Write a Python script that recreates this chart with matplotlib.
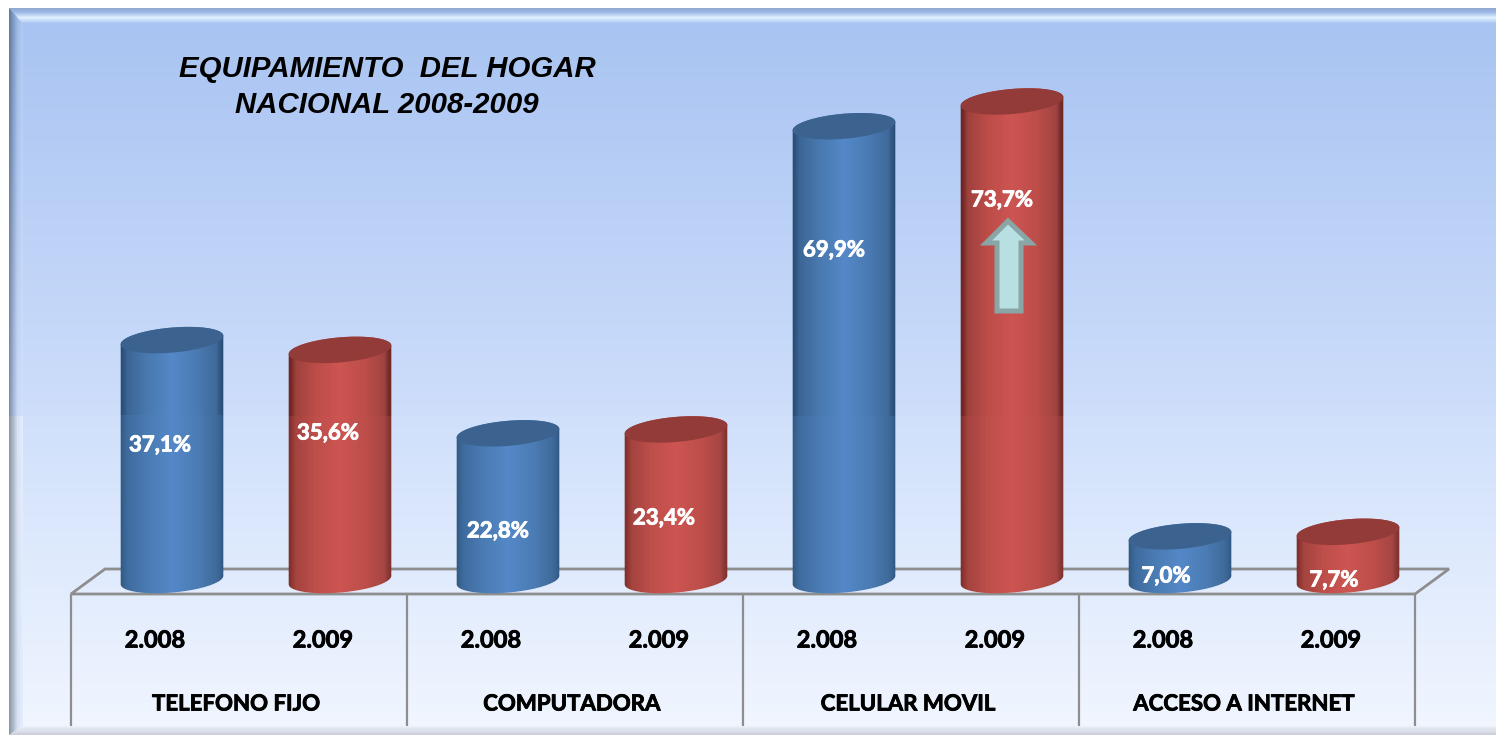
import numpy as np
import matplotlib
matplotlib.use("Agg")
import matplotlib.pyplot as plt
import matplotlib.patheffects as pe
from matplotlib.colors import to_rgb
from matplotlib.patches import Polygon

# Chart data
categories = ["TELEFONO FIJO", "COMPUTADORA", "CELULAR MOVIL", "ACCESO A INTERNET"]
years = ["2.008", "2.009"]
values_2008 = [37.1, 22.8, 69.9, 7.0]
values_2009 = [35.6, 23.4, 73.7, 7.7]
title_lines = ["EQUIPAMIENTO  DEL HOGAR", "NACIONAL 2008-2009"]

# Picture scale: one slot is 168 px, one percent point is 6.52 px
W, H = 1496, 735
SLOT_PX = 168.0
PCT_PX = 6.52
ZERO_PY = 582.0
BASE_PY = 580.0
SEAM_PY = 416
FIRST_PX = 172.0

# Colour ramps across a cylinder (the part above the seam has darker edges)
RAMP_POS = [0, 0.03, 0.07, 0.25, 0.5, 0.75, 0.93, 0.97, 1]
BLUE_UPPER = ["#284a70", "#2e5480", "#3c6696", "#4878ae", "#5488c8", "#4a7ab2", "#3f6a9a", "#2f5580", "#284a70"]
BLUE_LOWER = ["#2f5683", "#38638f", "#3f6c9f", "#4a7bb3", "#5488c8", "#4b7cb4", "#3f6b9c", "#38628f", "#2f5480"]
RED_UPPER = ["#6b2320", "#782a27", "#9e413d", "#bb4c48", "#cd5552", "#bc4d49", "#a04441", "#762d2a", "#6b2522"]
RED_LOWER = ["#7c2c29", "#8e3431", "#a4433f", "#bd4e4a", "#cd5552", "#bd4e4a", "#a54643", "#8a3835", "#7c302d"]
BLUE_TOP = "#3c6390"
RED_TOP = "#933b38"
LINE = "#8e8e8e"


def dx(px):
    return (px - FIRST_PX) / SLOT_PX


def dy(py):
    return (ZERO_PY - py) / PCT_PX


def ramp(where, pos, stops):
    rgb = np.array([to_rgb(c) for c in stops])
    return np.stack([np.interp(where, pos, rgb[:, i]) for i in range(3)], axis=-1)


def background(ax):
    rows = np.arange(H)
    img = ramp(rows, [8, 24, 415, 417, 730], ["#a9c4f2", "#a9c4f2", "#cedefb", "#d0e0fb", "#f1f6ff"])[:, None, :]
    ax.imshow(img, extent=(dx(0), dx(W), dy(H), dy(0)), aspect="auto", zorder=0, interpolation="nearest")

    # bevelled frame: top strip, left strip, bottom strip
    top = ramp(np.arange(8, 24), [8, 12, 17, 20, 23], ["#8fa8d0", "#a0bbe8", "#dff0ff", "#c8def8", "#a9c4f2"])[:, None, :]
    im = ax.imshow(top, extent=(dx(9), dx(W), dy(24), dy(8)), aspect="auto", zorder=1, interpolation="nearest")
    patch = Polygon([(dx(9), dy(8)), (dx(W), dy(8)), (dx(W), dy(24)), (dx(23), dy(24))], fc="none", ec="none")
    ax.add_patch(patch)
    im.set_clip_path(patch)

    # left strip gets lighter going down, with a small step at the seam
    cols = np.arange(9, 24)
    strip_top = ramp(cols, [9, 13, 17, 23], ["#5f7ba3", "#7f9ac4", "#9cb8e6", "#b4cdf5"])
    strip_seam = ramp(cols, [9, 13, 17, 23], ["#808fb0", "#a8b8d8", "#c8daf8", "#d4e3fb"])
    lower = ramp(cols, [9, 13, 17, 23], ["#8d99a8", "#b0bcca", "#d6e2f5", "#e6effd"])
    left = []
    for r in range(8, H):
        k = min(r / SEAM_PY, 1.0)
        left.append((1 - k) * strip_top + k * strip_seam if r < SEAM_PY else lower)
    im = ax.imshow(np.array(left), extent=(dx(9), dx(24), dy(H), dy(8)), aspect="auto", zorder=1,
                   interpolation="nearest")
    patch = Polygon([(dx(9), dy(8)), (dx(23), dy(24)), (dx(23), dy(726)), (dx(9), dy(H))], fc="none", ec="none")
    ax.add_patch(patch)
    im.set_clip_path(patch)

    bottom = ramp(np.arange(726, H), [726, 730, 735], ["#eef3fd", "#dfe3ee", "#c6cad6"])[:, None, :]
    im = ax.imshow(bottom, extent=(dx(9), dx(W), dy(H), dy(726)), aspect="auto", zorder=1, interpolation="nearest")
    patch = Polygon([(dx(9), dy(H)), (dx(23), dy(726)), (dx(W), dy(726)), (dx(W), dy(H))], fc="none", ec="none")
    ax.add_patch(patch)
    im.set_clip_path(patch)

    # white margin round the frame
    ax.add_patch(Polygon([(dx(0), dy(0)), (dx(W), dy(0)), (dx(W), dy(8)), (dx(0), dy(8))],
                         fc="white", ec="none", zorder=2))
    ax.add_patch(Polygon([(dx(0), dy(0)), (dx(9), dy(0)), (dx(9), dy(H)), (dx(0), dy(H))],
                         fc="white", ec="none", zorder=2))


def tilted_ellipse(cx, cy, t):
    # cx, cy in pixels, returns pixel outline points for the angles t
    a, b, rot = 51.5, 12.5, np.radians(-5)
    px = cx + a * np.cos(t) * np.cos(rot) - b * np.sin(t) * np.sin(rot)
    py = cy + a * np.cos(t) * np.sin(rot) + b * np.sin(t) * np.cos(rot)
    return px, py


def cylinder(ax, x, value, upper, lower, top_color):
    top_y = ZERO_PY - value * PCT_PX
    cx = FIRST_PX + x * SLOT_PX
    t = np.linspace(0, 2 * np.pi, 200)

    # outline: lower half of the base, then upper half of the top
    bx, by = tilted_ellipse(cx, BASE_PY, np.linspace(np.pi, 0, 80))
    ux, uy = tilted_ellipse(cx, top_y, np.linspace(0, -np.pi, 80))
    body = Polygon(np.column_stack([dx(np.r_[bx, ux]), dy(np.r_[by, uy])]), fc="none", ec="none", zorder=4)
    ax.add_patch(body)

    where = np.linspace(0, 1, 104)
    y0, y1 = int(top_y - 16), int(BASE_PY + 16)
    up, low = ramp(where, RAMP_POS, upper), ramp(where, RAMP_POS, lower)
    img = np.stack([up if r < SEAM_PY else low for r in range(y0, y1)], axis=0)
    im = ax.imshow(img, extent=(dx(cx - 52), dx(cx + 52), dy(y1), dy(y0)), aspect="auto", zorder=4,
                   interpolation="nearest")
    im.set_clip_path(body)

    tx, ty = tilted_ellipse(cx, top_y, t)
    ax.add_patch(Polygon(np.column_stack([dx(tx), dy(ty)]), fc=top_color, ec="none", zorder=5))


def floor(ax):
    ax.add_patch(Polygon([(dx(71), dy(594)), (dx(105), dy(569)), (dx(1449), dy(569)), (dx(1415), dy(594))],
                         fc="none", ec=LINE, lw=2, zorder=3))
    for i in range(len(categories) + 1):
        px = 71 + i * 2 * SLOT_PX
        ax.plot([dx(px), dx(px)], [dy(594), dy(726)], color=LINE, lw=1.6, zorder=3, solid_capstyle="butt")


def arrow(ax):
    pts = [(1008, 221), (1031, 243), (1021, 243), (1021, 311), (997, 311), (997, 243), (986, 243)]
    ax.add_patch(Polygon([(dx(a), dy(b)) for a, b in pts], fc="#b8e0e2", ec="#8aa5a5", lw=3.6,
                         joinstyle="miter", zorder=6))


def bold_text(ax, px, py, text, color, size):
    t = ax.text(dx(px), dy(py), text, color=color, ha="center", va="center", family="Lato", weight="bold",
                fontsize=size, zorder=7)
    t.set_path_effects([pe.withStroke(linewidth=0.6, foreground=color)])


fig = plt.figure(figsize=(W / 100, H / 100), dpi=100)
ax = fig.add_axes([0, 0, 1, 1])
background(ax)
floor(ax)

# Bars, two per category
label_px = [(160, 445), (328, 433), (498, 531), (664, 518), (834, 250), (1002, 200), (1166, 576), (1334, 580)]
for i in range(len(categories)):
    cylinder(ax, 2 * i, values_2008[i], BLUE_UPPER, BLUE_LOWER, BLUE_TOP)
    cylinder(ax, 2 * i + 1, values_2009[i], RED_UPPER, RED_LOWER, RED_TOP)
    for j, val in enumerate([values_2008[i], values_2009[i]]):
        lx, ly = label_px[2 * i + j]
        bold_text(ax, lx, ly, f"{val:.1f}%".replace(".", ","), "white", 16)
        bold_text(ax, 155 + (2 * i + j) * SLOT_PX, 640, years[j], "black", 17)
    bold_text(ax, 236 + 2 * i * SLOT_PX, 704, categories[i], "black", 16)

arrow(ax)

for line, py in zip(title_lines, [69, 105]):
    ax.text(dx(387), dy(py), line, color="black", ha="center", va="center", family="Liberation Sans",
            weight="bold", style="italic", fontsize=21.2, zorder=7)

ax.set_xlim(dx(0), dx(W))
ax.set_ylim(dy(H), dy(0))
ax.axis("off")
fig.savefig("out.png", dpi=100)
plt.close(fig)
